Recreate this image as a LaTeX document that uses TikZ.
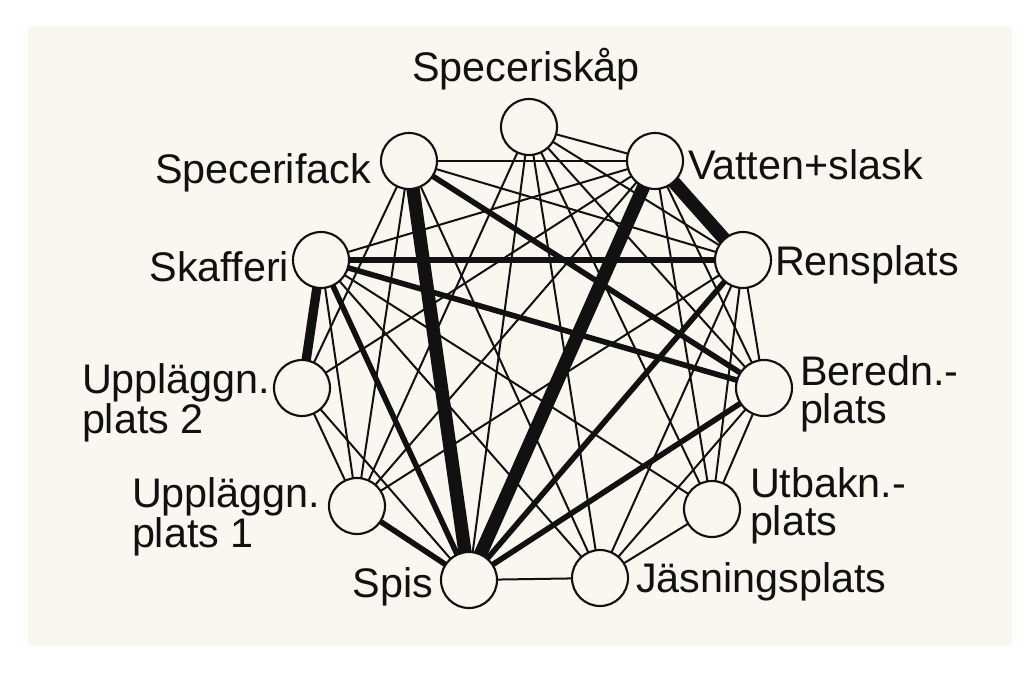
\documentclass[tikz,border=0pt]{standalone}
\usepackage{fontspec}
\setmainfont{Liberation Sans}
\pgfdeclarelayer{bgl}
\pgfdeclarelayer{edges}
\pgfsetlayers{bgl,edges,main}
\definecolor{paper}{RGB}{249,247,239}
\definecolor{ink}{RGB}{17,17,17}
\tikzset{
  place/.style={circle, draw=ink, line width=1.6pt, fill=paper, minimum size=42pt, inner sep=0pt, outer sep=0pt},
  lab/.style={inner sep=0pt, outer sep=0pt, text=ink, font=\fontsize{31}{28}\selectfont, align=left},
  thin/.style={draw=ink, line width=1.5pt},
  mid/.style={draw=ink, line width=4.2pt},
  heavy/.style={draw=ink, line width=7pt},
  xheavy/.style={draw=ink, line width=10pt},
}
\begin{document}
\begin{tikzpicture}[x=0.75pt,y=-0.75pt]
\useasboundingbox (0,0) rectangle (1036,673);
\begin{pgfonlayer}{bgl}
\fill[white] (0,0) rectangle (1036,673);
\fill[paper] (28,26) rectangle (1012,646);
\end{pgfonlayer}
% places
\node[place] (SK) at (529,127) {};
\node[place] (SF) at (409,161) {};
\node[place] (VS) at (655,161) {};
\node[place] (SKA) at (321,260) {};
\node[place] (RP) at (743,260) {};
\node[place] (UP2) at (302,388) {};
\node[place] (BP) at (764,388) {};
\node[place] (UP1) at (357,506) {};
\node[place] (UB) at (712,509) {};
\node[place] (SP) at (469,580) {};
\node[place] (JP) at (600,578) {};
% labels
\node[lab, anchor=base] (tSK) at (526,82) {Speceriskåp};
\node[lab, anchor=base east] (tSF) at (371,184) {Specerifack};
\node[lab, anchor=base west] (tVS) at (688,180) {Vatten+slask};
\node[lab, anchor=base east] (tSKA) at (289,282) {Skafferi};
\node[lab, anchor=base west] (tRP) at (775,276) {Rensplats};
\node[lab, anchor=north west] (tUP2) at (82,364) {Uppläggn.\\plats 2};
\node[lab, anchor=north west] (tBP) at (800,356) {Beredn.-\\plats};
\node[lab, anchor=north west] (tUP1) at (132,478) {Uppläggn.\\plats 1};
\node[lab, anchor=north west] (tUB) at (750,468) {Utbakn.-\\plats};
\node[lab, anchor=base east] (tSP) at (433,598) {Spis};
\node[lab, anchor=base west] (tJP) at (636,593) {Jäsningsplats};
% connectors
\begin{pgfonlayer}{edges}
% thin
\draw[thin] (SF) -- (VS);
\draw[thin] (SF) -- (RP);
\draw[thin] (SF) -- (UP2);
\draw[thin] (SF) -- (UP1);
\draw[thin] (SF) -- (JP);
\draw[thin] (SK) -- (VS);
\draw[thin] (SK) -- (RP);
\draw[thin] (SK) -- (BP);
\draw[thin] (SK) -- (UB);
\draw[thin] (SK) -- (JP);
\draw[thin] (SK) -- (SP);
\draw[thin] (SK) -- (UP1);
\draw[thin] (VS) -- (SKA);
\draw[thin] (VS) -- (UP2);
\draw[thin] (VS) -- (UP1);
\draw[thin] (VS) -- (BP);
\draw[thin] (VS) -- (UB);
\draw[thin] (SKA) -- (UP1);
\draw[thin] (SKA) -- (UB);
\draw[thin] (SKA) -- (JP);
\draw[thin] (RP) -- (BP);
\draw[thin] (RP) -- (UP1);
\draw[thin] (RP) -- (JP);
\draw[thin] (RP) -- (UB);
\draw[thin] (UP2) -- (UP1);
\draw[thin] (UP2) -- (SP);
\draw[thin] (BP) -- (UB);
\draw[thin] (BP) -- (JP);
\draw[thin] (UB) -- (JP);
\draw[thin] (SP) -- (JP);
% medium
\draw[mid] (SF) -- (BP);
\draw[mid] (SKA) -- (RP);
\draw[mid] (SKA) -- (BP);
\draw[mid] (SKA) -- (SP);
\draw[mid] (UP1) -- (SP);
\draw[mid] (BP) -- (SP);
\draw[mid] (RP) -- (SP);
% heavy
\draw[heavy] (SKA) -- (UP2);
\draw[xheavy] (VS) -- (RP);
\draw[xheavy] (SF) -- (SP);
\draw[xheavy] (VS) -- (SP);
\end{pgfonlayer}
\end{tikzpicture}
\end{document}
